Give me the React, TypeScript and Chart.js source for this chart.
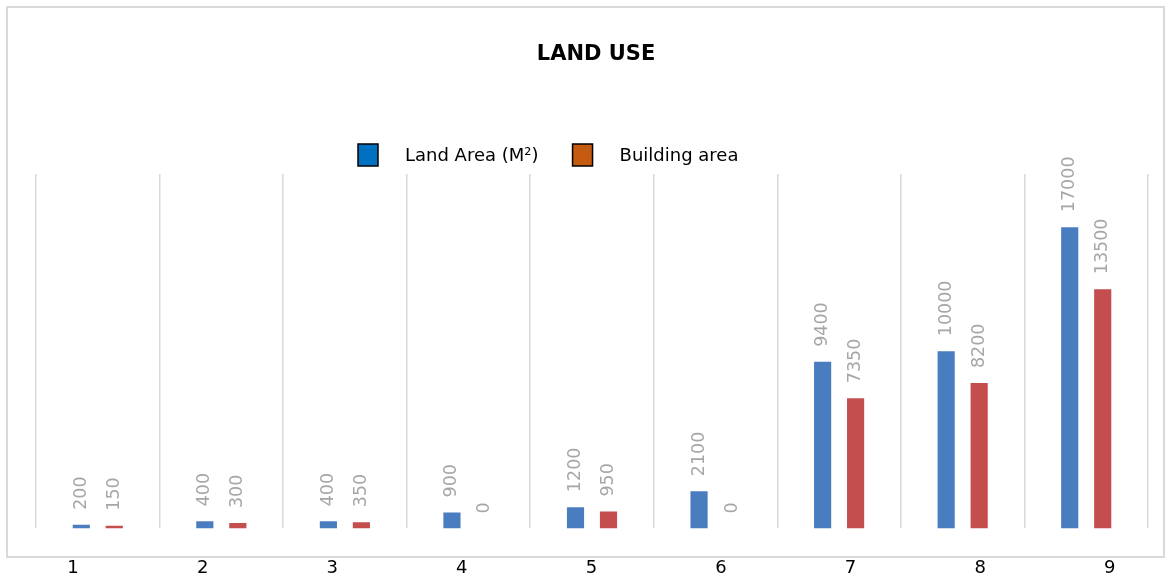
import React, { useEffect, useRef } from "react";
import { Chart, registerables } from "chart.js";

Chart.register(...registerables);

const chartTitle = "LAND USE";
const categories = ["1", "2", "3", "4", "5", "6", "7", "8", "9"];
const seriesNames = ["Land Area (M²)", "Building area"];
const landArea = [200, 400, 400, 900, 1200, 2100, 9400, 10000, 17000];
const buildingArea = [150, 300, 350, 0, 950, 0, 7350, 8200, 13500];
const yMin = 0;
const yMax = 20000;

const barColors = ["#4A7DC0", "#C44D4D"];
const legendColors = ["#0070C0", "#C55A11"];
const FONT = "'DejaVu Sans', Verdana, sans-serif";

// label axis range so category labels sit where the reference puts them
const labelAxisMin = 0.714;
const labelAxisMax = 9.295;

const decorPlugin = {
  id: "decor",
  beforeDraw(chart: any) {
    const ctx = chart.ctx;
    ctx.save();
    ctx.fillStyle = "#FFFFFF";
    ctx.fillRect(0, 0, chart.width, chart.height);
    ctx.strokeStyle = "#D9D9D9";
    ctx.lineWidth = 2;
    ctx.strokeRect(7, 7, 1157, 550);
    ctx.restore();
  },
  afterDraw(chart: any) {
    const ctx = chart.ctx;
    ctx.save();
    // title
    ctx.fillStyle = "#000000";
    ctx.font = `bold 21px ${FONT}`;
    ctx.textAlign = "center";
    ctx.textBaseline = "middle";
    ctx.fillText(chartTitle, 596, 55);
    // legend
    ctx.font = `18px ${FONT}`;
    ctx.textAlign = "left";
    let x = 358;
    const boxY = 144;
    seriesNames.forEach((name, i) => {
      ctx.fillStyle = legendColors[i];
      ctx.fillRect(x, boxY, 20, 22);
      ctx.strokeStyle = "#000000";
      ctx.lineWidth = 1.5;
      ctx.strokeRect(x, boxY, 20, 22);
      ctx.fillStyle = "#000000";
      const tx = x + 47;
      ctx.fillText(name, tx, boxY + 12);
      x = tx + ctx.measureText(name).width + 34;
    });
    ctx.restore();
  },
  afterDatasetsDraw(chart: any) {
    const ctx = chart.ctx;
    ctx.save();
    ctx.fillStyle = "#A6A6A6";
    ctx.font = `17.5px ${FONT}`;
    ctx.textAlign = "left";
    ctx.textBaseline = "middle";
    chart.data.datasets.forEach((ds: any, di: number) => {
      const meta = chart.getDatasetMeta(di);
      meta.data.forEach((el: any, i: number) => {
        ctx.save();
        ctx.translate(el.x, el.y - 15);
        ctx.rotate(-Math.PI / 2);
        ctx.fillText(String(ds.data[i]), 0, 0);
        ctx.restore();
      });
    });
    ctx.restore();
  },
};

export default function App() {
  const ref = useRef<HTMLCanvasElement>(null);

  useEffect(() => {
    document.body.style.margin = "0";
    document.body.style.overflow = "hidden";
    if (!ref.current) return;
    const chart = new Chart(ref.current, {
      type: "bar",
      data: {
        labels: categories,
        datasets: [
          {
            label: seriesNames[0],
            data: landArea,
            backgroundColor: barColors[0],
            categoryPercentage: 0.534,
            barPercentage: 0.52,
          },
          {
            label: seriesNames[1],
            data: buildingArea,
            backgroundColor: barColors[1],
            categoryPercentage: 0.534,
            barPercentage: 0.52,
          },
        ],
      },
      options: {
        animation: false,
        responsive: false,
        layout: { padding: { top: 174, left: 36, right: 24, bottom: -27 } },
        plugins: {
          legend: { display: false },
          title: { display: false },
          tooltip: { enabled: false },
        },
        scales: {
          x: {
            type: "category",
            position: "bottom",
            offset: true,
            grid: {
              display: true,
              offset: true,
              color: "#D9D9D9",
              lineWidth: 1.5,
              drawTicks: false,
            },
            border: { display: false },
            ticks: { display: false },
          },
          x2: {
            type: "linear",
            position: "bottom",
            offset: false,
            min: labelAxisMin,
            max: labelAxisMax,
            grid: { display: false, drawTicks: false, offset: false },
            border: { display: false },
            afterBuildTicks: (axis: any) => {
              axis.ticks = categories.map((_, i) => ({ value: i + 1 }));
            },
            ticks: {
              padding: 29,
              autoSkip: false,
              maxRotation: 0,
              color: "#000000",
              font: { family: FONT, size: 18 },
              callback: (v: any) => categories[Number(v) - 1] ?? "",
            },
          },
          y: {
            display: false,
            min: yMin,
            max: yMax,
          },
        },
      },
      plugins: [decorPlugin],
    });
    return () => chart.destroy();
  }, []);

  return (
    <div style={{ width: 1172, height: 581 }}>
      <canvas ref={ref} width={1172} height={581} />
    </div>
  );
}
